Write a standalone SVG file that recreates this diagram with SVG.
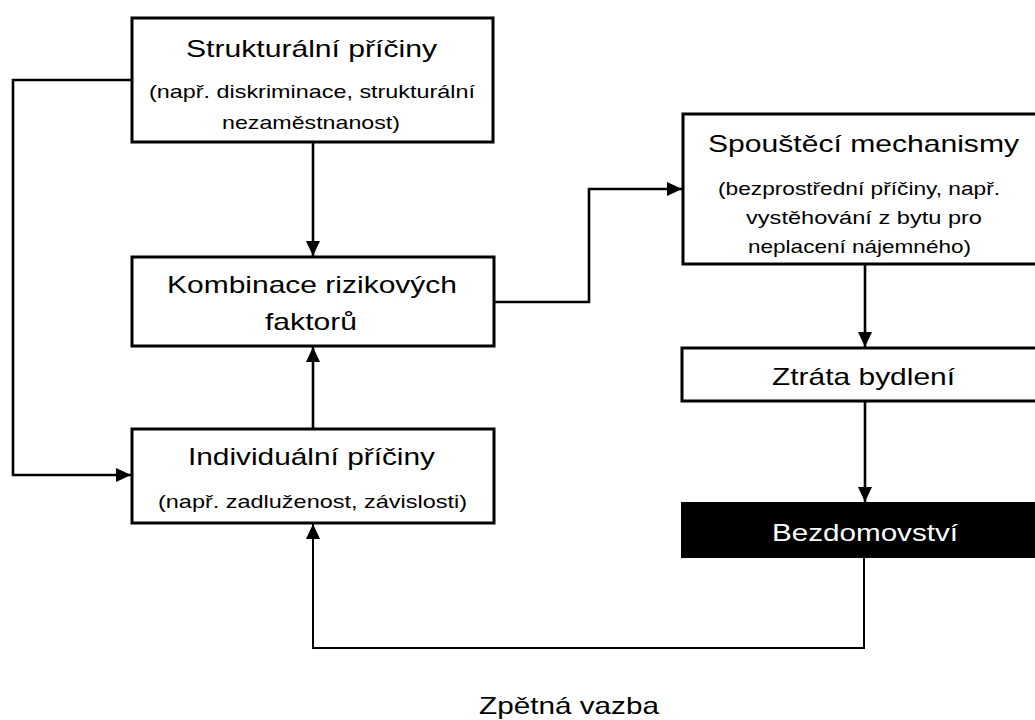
<svg xmlns="http://www.w3.org/2000/svg" width="1035" height="720" viewBox="0 0 1035 720">
<style>
.box{fill:#fff;stroke:#000;stroke-width:3}
.dark{fill:#000;stroke:#000;stroke-width:2}
.t{font-family:"Liberation Sans",Arial,sans-serif;font-size:24px;fill:#000}
.s{font-family:"Liberation Sans",Arial,sans-serif;font-size:19px;fill:#000}
.w{fill:#fff}
.c{fill:none;stroke:#000;stroke-width:2.6}
.thin{stroke-width:2}
</style>
<defs>
<marker id="ah" markerUnits="userSpaceOnUse" markerWidth="16" markerHeight="15" refX="15" refY="7" orient="auto">
<path d="M0,0 L15,7 L0,14 z" fill="#000"/>
</marker>
</defs>
<rect width="1035" height="720" fill="#fff"/>
<g id="connectors">
<path class="c" d="M313,142 V256" marker-end="url(#ah)"/>
<path class="c" d="M132,80 H13 V475 H131" marker-end="url(#ah)"/>
<path class="c" d="M313,429 V347" marker-end="url(#ah)"/>
<path class="c" d="M494,302 H589 V189 H682" marker-end="url(#ah)"/>
<path class="c" d="M865,264 V347" marker-end="url(#ah)"/>
<path class="c" d="M865,401 V502" marker-end="url(#ah)"/>
<path class="c thin" d="M864,557 V648 H313 V524" marker-end="url(#ah)"/>
</g>
<g id="strukturalni">
<rect class="box" x="132" y="18" width="361" height="124"/>
<text class="t" x="186" y="57" textLength="251" lengthAdjust="spacingAndGlyphs">Strukturální příčiny</text>
<text class="s" x="149" y="98" textLength="326" lengthAdjust="spacingAndGlyphs">(např. diskriminace, strukturální</text>
<text class="s" x="222" y="129" textLength="178" lengthAdjust="spacingAndGlyphs">nezaměstnanost)</text>
</g>
<g id="kombinace">
<rect class="box" x="132" y="257" width="362" height="89"/>
<text class="t" x="167" y="293" textLength="290" lengthAdjust="spacingAndGlyphs">Kombinace rizikových</text>
<text class="t" x="265" y="330" textLength="92" lengthAdjust="spacingAndGlyphs">faktorů</text>
</g>
<g id="individualni">
<rect class="box" x="132" y="429" width="362" height="94"/>
<text class="t" x="188" y="465" textLength="247" lengthAdjust="spacingAndGlyphs">Individuální příčiny</text>
<text class="s" x="158" y="508" textLength="309" lengthAdjust="spacingAndGlyphs">(např. zadluženost, závislosti)</text>
</g>
<g id="spoustec">
<rect class="box" x="683" y="114" width="365" height="150"/>
<text class="t" x="708" y="152" textLength="311" lengthAdjust="spacingAndGlyphs">Spouštěcí mechanismy</text>
<text class="s" x="718" y="195" textLength="282" lengthAdjust="spacingAndGlyphs">(bezprostřední příčiny, např.</text>
<text class="s" x="746" y="224" textLength="236" lengthAdjust="spacingAndGlyphs">vystěhování z bytu pro</text>
<text class="s" x="748" y="253" textLength="223" lengthAdjust="spacingAndGlyphs">neplacení nájemného)</text>
</g>
<g id="ztrata">
<rect class="box" x="682" y="348" width="366" height="53"/>
<text class="t" x="772" y="385" textLength="183" lengthAdjust="spacingAndGlyphs">Ztráta bydlení</text>
</g>
<g id="bezdomovstvi">
<rect class="dark" x="682" y="503" width="366" height="54"/>
<text class="t w" x="772" y="541" textLength="186" lengthAdjust="spacingAndGlyphs">Bezdomovství</text>
</g>
<g id="zpetna-vazba">
<text class="t" x="479" y="714" textLength="180" lengthAdjust="spacingAndGlyphs">Zpětná vazba</text>
</g>
</svg>
